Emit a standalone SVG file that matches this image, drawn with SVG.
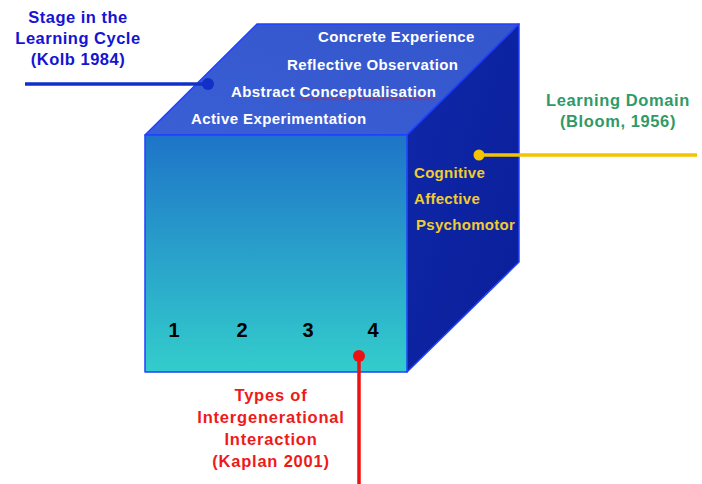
<svg xmlns="http://www.w3.org/2000/svg" width="702" height="484" viewBox="0 0 702 484">
<style>
text{font-family:"Liberation Sans",Arial,sans-serif;font-weight:bold}
.top{fill:#ffffff;font-size:15px;letter-spacing:0.4px}
.yel{fill:#f0cc30;font-size:15px;letter-spacing:0.3px}
.num{fill:#000000;font-size:20px}
.blue{fill:#1414d2;font-size:16.5px;letter-spacing:0.5px}
.green{fill:#2f9a68;font-size:16.5px;letter-spacing:0.6px}
.red{fill:#ee1a1a;font-size:16.5px;letter-spacing:0.8px}
.edge{stroke:#2040ff;stroke-width:1.5;stroke-linejoin:round}
</style>
<defs>
<linearGradient id="gFront" x1="0" y1="0" x2="0" y2="1">
<stop offset="0" stop-color="#1e74c8"/>
<stop offset="1" stop-color="#33cdcc"/>
</linearGradient>
<linearGradient id="gTop" x1="0" y1="1" x2="1" y2="0">
<stop offset="0" stop-color="#3a5fd4"/>
<stop offset="1" stop-color="#3455cc"/>
</linearGradient>
<linearGradient id="gRight" x1="0" y1="0" x2="1" y2="1">
<stop offset="0" stop-color="#0f28aa"/>
<stop offset="1" stop-color="#0a1e98"/>
</linearGradient>
</defs>
<rect width="702" height="484" fill="#ffffff"/>
<g id="cube">
<polygon class="edge" points="145,135 257,24 519,24 407,135" fill="url(#gTop)"/>
<polygon class="edge" points="407,135 519,24 519,262 407,372" fill="url(#gRight)"/>
<rect class="edge" x="145" y="135" width="262" height="237" fill="url(#gFront)"/>
<text class="top" x="318" y="42">Concrete Experience</text>
<text class="top" x="287" y="70">Reflective Observation</text>
<text class="top" x="231" y="97">Abstract Conceptualisation</text>
<path d="M299,100 l2,-1.5 2,1.5 2,-1.5 2,1.5 2,-1.5 2,1.5 2,-1.5 2,1.5 2,-1.5 2,1.5 2,-1.5 2,1.5 2,-1.5 2,1.5 2,-1.5 2,1.5 2,-1.5 2,1.5 2,-1.5 2,1.5 2,-1.5 2,1.5 2,-1.5 2,1.5 2,-1.5 2,1.5 2,-1.5 2,1.5 2,-1.5 2,1.5 2,-1.5 2,1.5 2,-1.5 2,1.5 2,-1.5 2,1.5 2,-1.5 2,1.5 2,-1.5 2,1.5 2,-1.5 2,1.5 2,-1.5 2,1.5 2,-1.5 2,1.5 2,-1.5 2,1.5 2,-1.5 2,1.5 2,-1.5 2,1.5 2,-1.5 2,1.5 2,-1.5 2,1.5 2,-1.5 2,1.5 2,-1.5 2,1.5 2,-1.5 2,1.5 2,-1.5 2,1.5 2,-1.5 2,1.5 2,-1.5 2,1.5" fill="none" stroke="#d02030" stroke-width="0.9"/>
<text class="top" x="191" y="124">Active Experimentation</text>
<text class="yel" x="414" y="178">Cognitive</text>
<text class="yel" x="414" y="204">Affective</text>
<text class="yel" x="416" y="230">Psychomotor</text>
<text class="num" x="174" y="337" text-anchor="middle">1</text>
<text class="num" x="242" y="337" text-anchor="middle">2</text>
<text class="num" x="308" y="337" text-anchor="middle">3</text>
<text class="num" x="373" y="337" text-anchor="middle">4</text>
</g>
<g id="label-kolb">
<text class="blue" x="78" y="23" text-anchor="middle">Stage in the</text>
<text class="blue" x="78" y="44" text-anchor="middle">Learning Cycle</text>
<text class="blue" x="78" y="65" text-anchor="middle">(Kolb 1984)</text>
</g>
<g id="label-bloom">
<text class="green" x="618" y="106" text-anchor="middle">Learning Domain</text>
<text class="green" x="618" y="127" text-anchor="middle">(Bloom, 1956)</text>
</g>
<g id="label-kaplan">
<text class="red" x="271" y="401" text-anchor="middle">Types of</text>
<text class="red" x="271" y="423" text-anchor="middle">Intergenerational</text>
<text class="red" x="271" y="445" text-anchor="middle">Interaction</text>
<text class="red" x="271" y="467" text-anchor="middle">(Kaplan 2001)</text>
</g>
<g id="connectors">
<line x1="25" y1="84" x2="208" y2="84" stroke="#1030c8" stroke-width="3.5"/>
<circle cx="208" cy="84" r="6" fill="#1030c8"/>
<line x1="479" y1="155" x2="697" y2="155" stroke="#f5c400" stroke-width="3.5"/>
<circle cx="479" cy="155" r="5.5" fill="#f5c400"/>
<line x1="359" y1="356" x2="359" y2="484" stroke="#ee1111" stroke-width="3.5"/>
<circle cx="359" cy="356" r="6" fill="#ee1111"/>
</g>
</svg>
